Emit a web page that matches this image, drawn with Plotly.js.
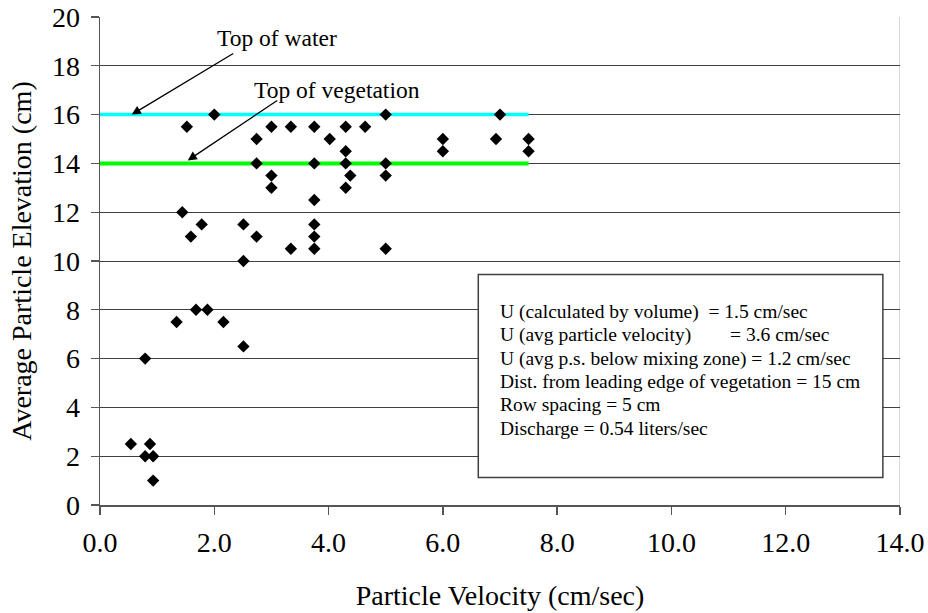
<!DOCTYPE html>
<html>
<head>
<meta charset="utf-8">
<script src="https://cdn.plot.ly/plotly-3.0.1.min.js"></script>
<style>
  html, body { margin: 0; padding: 0; background: #ffffff; }
  #chart { width: 928px; height: 613px; }
</style>
</head>
<body>
<div id="chart"></div>
<script>
// Particle velocity (cm/sec) and average particle elevation (cm) measurements
var velocity = [
  0.54, 0.875, 0.79, 0.93, 0.93, 0.79,
  1.34, 1.68, 1.88, 2.16, 2.51,
  1.44, 1.78, 1.59, 2.51, 2.51, 2.74, 3.34,
  1.52, 2.0, 2.74, 2.74, 3.0, 3.0, 3.0, 3.34,
  3.75, 3.75, 3.75, 3.75, 3.75, 3.75,
  4.02, 4.3, 4.3, 4.3, 4.3, 4.38, 4.64,
  5.0, 5.0, 5.0, 5.0,
  6.0, 6.0, 6.93, 7.0, 7.5, 7.5
];
var elevation = [
  2.5, 2.5, 2, 2, 1, 6,
  7.5, 8, 8, 7.5, 6.5,
  12, 11.5, 11, 11.5, 10, 11, 10.5,
  15.5, 16, 15, 14, 15.5, 13.5, 13, 15.5,
  15.5, 14, 12.5, 11.5, 11, 10.5,
  15, 15.5, 14.5, 14, 13, 13.5, 15.5,
  16, 14, 13.5, 10.5,
  15, 14.5, 15, 16, 15, 14.5
];

// Reference levels drawn across the measured velocity span
var levelSpan = [0, 7.5];
var waterTop = [16, 16];
var vegetationTop = [14, 14];

// Experiment notes shown in the boxed text
var notes = [
  'U (calculated by volume)\u00a0\u00a0= 1.5 cm/sec',
  'U (avg particle velocity)\u00a0\u00a0\u00a0\u00a0\u00a0\u00a0\u00a0\u00a0= 3.6 cm/sec',
  'U (avg p.s. below mixing zone) = 1.2 cm/sec',
  'Dist. from leading edge of vegetation = 15 cm',
  'Row spacing = 5 cm',
  'Discharge = 0.54 liters/sec'
];
var noteY = [7.91, 6.95, 6.0, 5.05, 4.1, 3.14];

var serif = 'Liberation Serif';

var traces = [
  {
    x: levelSpan, y: waterTop, type: 'scatter', mode: 'lines',
    line: { color: '#00ffff', width: 3.5 }, hoverinfo: 'skip', showlegend: false
  },
  {
    x: levelSpan, y: vegetationTop, type: 'scatter', mode: 'lines',
    line: { color: '#00ff00', width: 4 }, hoverinfo: 'skip', showlegend: false
  },
  {
    x: velocity, y: elevation, type: 'scatter', mode: 'markers',
    marker: { symbol: 'diamond', size: 9.5, color: '#000000', line: { width: 0 } },
    showlegend: false
  }
];

var annotations = [
  {
    x: 3.106, y: 19.13, xref: 'x', yref: 'y', text: 'Top of water',
    showarrow: false, font: { family: serif, size: 23.5, color: '#000' }
  },
  {
    x: 4.14, y: 17.0, xref: 'x', yref: 'y', text: 'Top of vegetation',
    showarrow: false, font: { family: serif, size: 23.5, color: '#000' }
  },
  {
    x: 0.555, y: 16, xref: 'x', yref: 'y', text: '',
    showarrow: true, arrowhead: 2, arrowsize: 1.4, arrowwidth: 1.3,
    arrowcolor: '#000', ax: 103, ay: -62, standoff: 0, startstandoff: 0
  },
  {
    x: 1.535, y: 14.12, xref: 'x', yref: 'y', text: '',
    showarrow: true, arrowhead: 2, arrowsize: 1.4, arrowwidth: 1.3,
    arrowcolor: '#000', ax: 91, ay: -61, standoff: 0, startstandoff: 0
  }
];

notes.forEach(function (line, i) {
  annotations.push({
    x: 6.97, y: noteY[i], xref: 'x', yref: 'y', xanchor: 'left', yanchor: 'middle',
    text: line, showarrow: false, font: { family: serif, size: 19.5, color: '#000' }
  });
});

var axisFont = { family: serif, size: 28, color: '#000' };

var layout = {
  width: 928, height: 613,
  margin: { l: 100, r: 28, t: 17, b: 108 },
  paper_bgcolor: '#ffffff', plot_bgcolor: '#ffffff',
  font: { family: serif, color: '#000', size: 20 },
  showlegend: false,
  xaxis: {
    range: [0, 14], tick0: 0, dtick: 2, tickformat: '.1f',
    showgrid: false, zeroline: false,
    showline: true, linecolor: '#555555', linewidth: 1.5,
    ticks: 'outside', ticklen: 8, tickwidth: 1.3, tickcolor: '#555555',
    ticklabelstandoff: 4,
    tickfont: axisFont,
    title: { text: 'Particle Velocity (cm/sec)', font: axisFont, standoff: 28 }
  },
  yaxis: {
    range: [0, 20], tick0: 0, dtick: 2,
    showgrid: true, gridcolor: '#404040', gridwidth: 1, zeroline: false,
    showline: true, linecolor: '#555555', linewidth: 1.5,
    ticks: 'outside', ticklen: 8, tickwidth: 1.3, tickcolor: '#555555',
    ticklabelstandoff: 5,
    tickfont: axisFont,
    title: { text: 'Average Particle Elevation (cm)', font: axisFont, standoff: 12 }
  },
  shapes: [
    {
      type: 'rect', xref: 'x', yref: 'y', x0: 6.62, x1: 13.70, y0: 1.13, y1: 9.45,
      fillcolor: '#ffffff', line: { color: '#404040', width: 1.5 }, layer: 'above'
    },
    {
      type: 'line', xref: 'x', yref: 'paper', x0: 14, x1: 14, y0: 0, y1: 1,
      line: { color: '#c0c0c0', width: 1.3 }, layer: 'below'
    }
  ],
  annotations: annotations
};

Plotly.newPlot('chart', traces, layout, { displayModeBar: false, staticPlot: true });
</script>
</body>
</html>
